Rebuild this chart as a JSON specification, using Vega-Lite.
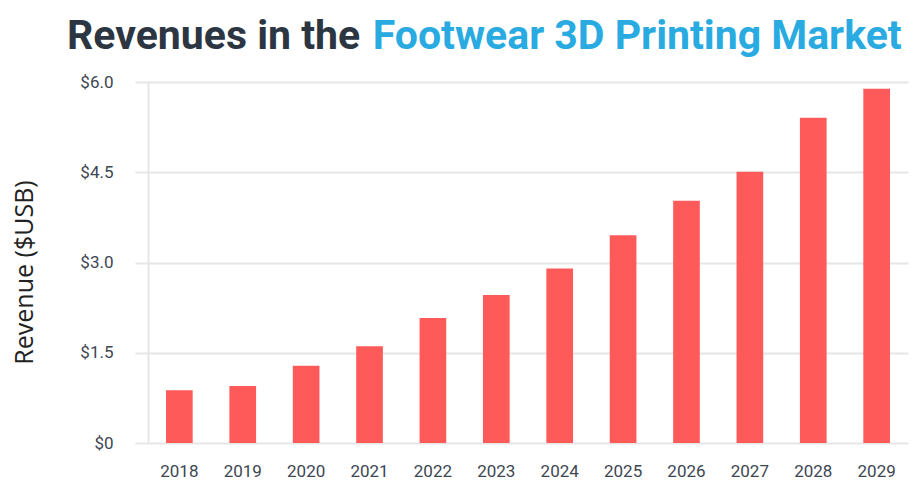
{
  "$schema": "https://vega.github.io/schema/vega-lite/v6.json",
  "width": 760,
  "height": 361,
  "autosize": "none",
  "padding": {"left": 148, "top": 82, "right": 5, "bottom": 38},
  "background": "white",
  "title": {
    "text": "Revenues in the",
    "subtitle": "\u200b\u00a0\u00a0\u00a0\u00a0\u00a0\u00a0\u00a0\u00a0\u00a0\u00a0\u00a0\u00a0\u00a0\u00a0\u00a0\u00a0\u00a0\u00a0\u00a0\u00a0\u00a0\u00a0\u00a0\u00a0\u00a0\u00a0\u00a0\u00a0\u00a0\u00a0Footwear 3D Printing Market",
    "anchor": "start",
    "frame": "group",
    "align": "left",
    "dx": -81,
    "font": "Roboto",
    "fontSize": 41,
    "fontWeight": 700,
    "color": "#2c3643",
    "subtitleFont": "Roboto",
    "subtitleFontSize": 41,
    "subtitleFontWeight": 700,
    "subtitleColor": "#29abe2",
    "subtitlePadding": -41,
    "offset": 15
  },
  "data": {
    "values": [
      {"year": "2018", "revenue": 0.875},
      {"year": "2019", "revenue": 0.948},
      {"year": "2020", "revenue": 1.286},
      {"year": "2021", "revenue": 1.607},
      {"year": "2022", "revenue": 2.079},
      {"year": "2023", "revenue": 2.461},
      {"year": "2024", "revenue": 2.899},
      {"year": "2025", "revenue": 3.453},
      {"year": "2026", "revenue": 4.025},
      {"year": "2027", "revenue": 4.507},
      {"year": "2028", "revenue": 5.405},
      {"year": "2029", "revenue": 5.887}
    ]
  },
  "mark": {"type": "bar", "color": "#ff5a5a"},
  "encoding": {
    "x": {
      "field": "year",
      "type": "ordinal",
      "scale": {"paddingInner": 0.579, "paddingOuter": 0.284},
      "axis": {
        "title": null,
        "labelAngle": 0,
        "domain": false,
        "ticks": false,
        "labelPadding": 20,
        "labelFont": "Roboto",
        "labelFontSize": 17,
        "labelColor": "#3d4653"
      }
    },
    "y": {
      "field": "revenue",
      "type": "quantitative",
      "scale": {"domain": [0, 6], "nice": false},
      "axis": {
        "title": "Revenue ($USB)",
        "titleFont": "Open Sans",
        "titleFontSize": 25,
        "titleFontWeight": "normal",
        "titleColor": "#222222",
        "titlePadding": 42,
        "titleY": 190,
        "values": [0, 1.5, 3, 4.5, 6],
        "labelExpr": "datum.value == 0 ? '$0' : '$' + format(datum.value, '.1f')",
        "labelFont": "Roboto",
        "labelFontSize": 17,
        "labelColor": "#3d4653",
        "labelPadding": 22,
        "tickSize": 13,
        "tickColor": "#e6e6e6",
        "tickWidth": 2,
        "domain": true,
        "domainColor": "#e6e6e6",
        "domainWidth": 2,
        "grid": true,
        "gridColor": "#e6e6e6",
        "gridWidth": 2
      }
    }
  },
  "config": {"view": {"stroke": null}}
}
